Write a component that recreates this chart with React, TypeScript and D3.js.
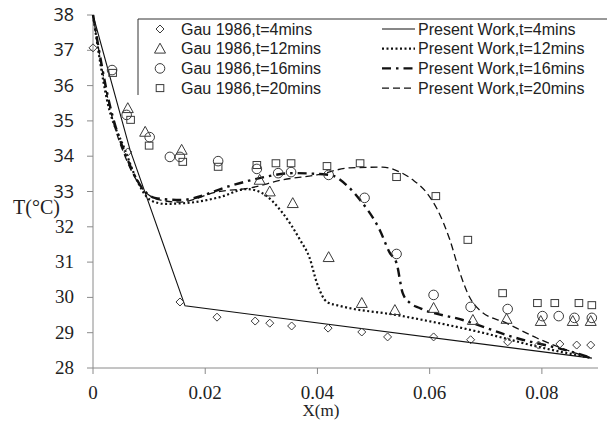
import * as d3 from "d3";

// measured data (Gau 1986)
const gau4X = [0, 0.0062, 0.0155, 0.0221, 0.0289, 0.0315, 0.0354, 0.0419, 0.0479, 0.0525, 0.0607, 0.0673, 0.0739, 0.0794, 0.0832, 0.0862, 0.0887];
const gau4T = [37.07, 34.12, 29.87, 29.44, 29.33, 29.27, 29.19, 29.13, 29.02, 28.88, 28.88, 28.8, 28.74, 28.65, 28.68, 28.65, 28.65];

const gau12X = [0.0062, 0.0093, 0.0158, 0.0297, 0.0315, 0.0356, 0.042, 0.0479, 0.0538, 0.0607, 0.0677, 0.0737, 0.0798, 0.0855, 0.0887];
const gau12T = [35.36, 34.69, 34.18, 33.33, 33.0, 32.67, 31.14, 29.84, 29.64, 29.7, 29.36, 29.39, 29.33, 29.33, 29.33];

const gau16X = [0.0034, 0.006, 0.0101, 0.0137, 0.0155, 0.0223, 0.0292, 0.033, 0.0353, 0.042, 0.0484, 0.0541, 0.0607, 0.0673, 0.0739, 0.0801, 0.083, 0.0858, 0.0889];
const gau16T = [36.44, 35.17, 34.54, 33.98, 33.98, 33.86, 33.64, 33.52, 33.55, 33.47, 32.82, 31.23, 30.07, 29.73, 29.67, 29.47, 29.47, 29.42, 29.42];

const gau20X = [0.0035, 0.0067, 0.01, 0.016, 0.0223, 0.0292, 0.0326, 0.0353, 0.0417, 0.0476, 0.0541, 0.0611, 0.0668, 0.073, 0.0792, 0.0823, 0.0866, 0.0889];
const gau20T = [36.36, 35.03, 34.3, 33.84, 33.7, 33.75, 33.8, 33.8, 33.72, 33.8, 33.41, 32.87, 31.63, 30.12, 29.84, 29.84, 29.84, 29.78];

// present work curves
const pw4X = [0, 0.0066, 0.0164, 0.0889];
const pw4T = [38, 34.18, 29.76, 28.28];

const pw12X = [0, 0.0025, 0.0057, 0.0078, 0.0102, 0.0128, 0.0164, 0.0226, 0.0274, 0.0301, 0.0338, 0.0369, 0.0386, 0.0399, 0.0417, 0.044, 0.0541, 0.0689, 0.0796, 0.0889];
const pw12T = [38, 35.59, 34.18, 33.33, 32.76, 32.65, 32.67, 32.84, 33.07, 32.96, 32.39, 31.63, 31.12, 30.41, 29.87, 29.76, 29.5, 29.02, 28.59, 28.28];

const pw16X = [0, 0.003, 0.0062, 0.0084, 0.011, 0.0155, 0.0249, 0.0297, 0.0356, 0.0422, 0.0452, 0.0476, 0.0511, 0.0529, 0.0541, 0.0552, 0.0565, 0.0582, 0.0659, 0.0748, 0.0855, 0.0889];
const pw16T = [38, 35.45, 33.89, 33.18, 32.82, 32.76, 33.18, 33.38, 33.52, 33.47, 33.18, 32.76, 31.91, 31.26, 30.97, 30.12, 29.84, 29.7, 29.36, 28.88, 28.45, 28.28];

const pw20X = [0, 0.003, 0.0062, 0.0087, 0.0119, 0.0155, 0.0221, 0.028, 0.0338, 0.0399, 0.0458, 0.0516, 0.0547, 0.057, 0.0595, 0.0614, 0.0636, 0.0654, 0.0671, 0.0689, 0.0737, 0.0791, 0.0844, 0.0889];
const pw20T = [38, 35.37, 33.81, 33.1, 32.76, 32.7, 32.99, 33.1, 33.33, 33.47, 33.67, 33.69, 33.55, 33.33, 32.96, 32.48, 31.63, 30.69, 30.01, 29.64, 29.27, 28.85, 28.51, 28.28];

const xTicks = [0, 0.02, 0.04, 0.06, 0.08];
const xTickLabels = ["0", "0.02", "0.04", "0.06", "0.08"];
const yTicks = [28, 29, 30, 31, 32, 33, 34, 35, 36, 37, 38];

const gauLabels = ["Gau 1986,t=4mins", "Gau 1986,t=12mins", "Gau 1986,t=16mins", "Gau 1986,t=20mins"];
const pwLabels = ["Present Work,t=4mins", "Present Work,t=12mins", "Present Work,t=16mins", "Present Work,t=20mins"];

const W = 607;
const H = 421;
const axisColor = "#8a8a8a";
const markColor = "#3a3a3a";
const serif = "'Liberation Serif', 'Times New Roman', serif";
const sans = "'Open Sans', 'DejaVu Sans', sans-serif";
const legendFont = "'Liberation Sans', Arial, sans-serif";

const x = d3.scaleLinear().domain([0, 0.09]).range([93, 598]);
const y = d3.scaleLinear().domain([28, 38]).range([368, 15]);

type Shape = "diamond" | "triangle" | "circle" | "square";

const Marker = ({ shape, cx, cy }: { shape: Shape; cx: number; cy: number }) => {
  const p = { fill: "none", stroke: markColor, strokeWidth: 1 };
  if (shape === "diamond") {
    const s = 4;
    return <path d={`M${cx},${cy - s}L${cx + s},${cy}L${cx},${cy + s}L${cx - s},${cy}Z`} {...p} />;
  }
  if (shape === "triangle") {
    const s = 5.5;
    return <path d={`M${cx},${cy - s}L${cx + s},${cy + s * 0.8}L${cx - s},${cy + s * 0.8}Z`} {...p} />;
  }
  if (shape === "circle") return <circle cx={cx} cy={cy} r={4.8} {...p} />;
  return <rect x={cx - 3.8} y={cy - 3.5} width={7.6} height={7} {...p} />;
};

const smooth = d3.line<[number, number]>().x((d) => x(d[0])).y((d) => y(d[1])).curve(d3.curveMonotoneX);
const straight = d3.line<[number, number]>().x((d) => x(d[0])).y((d) => y(d[1]));

const zip = (a: number[], b: number[]) => a.map((v, i) => [v, b[i]] as [number, number]);

export default function App() {
  const scatter: [number[], number[], Shape][] = [
    [gau4X, gau4T, "diamond"],
    [gau12X, gau12T, "triangle"],
    [gau16X, gau16T, "circle"],
    [gau20X, gau20T, "square"],
  ];
  const lineStyles = [
    { w: 1.1, dash: "" },
    { w: 2.2, dash: "2,2.5" },
    { w: 2.4, dash: "9,5,2.5,5" },
    { w: 1.3, dash: "7,4" },
  ];
  const lines = [
    straight(zip(pw4X, pw4T)),
    smooth(zip(pw12X, pw12T)),
    smooth(zip(pw16X, pw16T)),
    smooth(zip(pw20X, pw20T)),
  ];
  const shapes: Shape[] = ["diamond", "triangle", "circle", "square"];

  return (
    <svg width={W} height={H} style={{ position: "absolute", left: 0, top: 0, background: "#fff" }}>
      {/* axes */}
      <line x1={93} x2={598} y1={368} y2={368} stroke={axisColor} />
      <line x1={93} x2={93} y1={15} y2={368} stroke={axisColor} />
      {xTicks.map((t, i) => (
        <g key={t}>
          <line x1={x(t)} x2={x(t)} y1={368} y2={374} stroke={axisColor} />
          <text x={x(t)} y={399} textAnchor="middle" fontFamily={serif} fontSize={19} fill="#222">
            {xTickLabels[i]}
          </text>
        </g>
      ))}
      {yTicks.map((t) => (
        <g key={t}>
          <line x1={87} x2={93} y1={y(t)} y2={y(t)} stroke={axisColor} />
          <text
            x={74}
            y={y(t) + 6}
            textAnchor="end"
            fontFamily={t >= 33 ? sans : serif}
            fontSize={t >= 33 ? 18 : 19}
            fill="#222"
          >
            {t}
          </text>
        </g>
      ))}
      <text x={13} y={214} fontFamily={serif} fontSize={20} fill="#222">T(°C)</text>
      <text x={321} y={416} textAnchor="middle" fontFamily={serif} fontSize={17} fill="#222">X(m)</text>

      {/* model lines */}
      {lines.map((d, i) => (
        <path key={i} d={d || ""} fill="none" stroke="#111" strokeWidth={lineStyles[i].w} strokeDasharray={lineStyles[i].dash} />
      ))}

      {/* experimental points */}
      {scatter.map(([xs, ts, shape], k) =>
        xs.map((v, i) => <Marker key={`${k}-${i}`} shape={shape} cx={x(v)} cy={y(ts[i])} />)
      )}

      {/* legend */}
      <line x1={138} x2={W} y1={19} y2={19} stroke="#333" />
      <line x1={138} x2={138} y1={19} y2={95} stroke="#333" />
      {gauLabels.map((lab, i) => {
        const cy = 29 + i * 19.7;
        return (
          <g key={lab}>
            <Marker shape={shapes[i]} cx={160} cy={cy} />
            <text x={181} y={cy + 5.5} fontFamily={legendFont} fontSize={16} fill="#222">{lab}</text>
            <line x1={382} x2={415} y1={cy} y2={cy} stroke="#111" strokeWidth={lineStyles[i].w} strokeDasharray={lineStyles[i].dash} />
            <text x={418} y={cy + 5.5} fontFamily={legendFont} fontSize={16} fill="#222">{pwLabels[i]}</text>
          </g>
        );
      })}
    </svg>
  );
}
